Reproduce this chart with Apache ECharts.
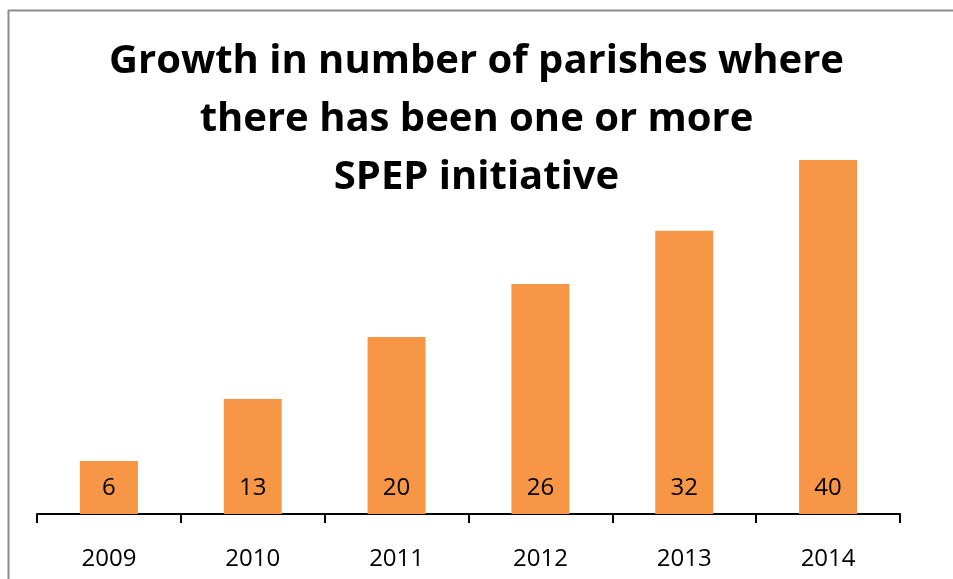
<!DOCTYPE html>
<html><head><meta charset="utf-8">
<script src="https://cdn.jsdelivr.net/npm/echarts@6/dist/echarts.min.js"></script>
<style>html,body{margin:0;padding:0;background:#fff}#c{width:953px;height:579px}</style>
</head><body><div id="c"></div>
<script>
const categories = ['2009','2010','2011','2012','2013','2014'];
const parishes = [6, 13, 20, 26, 32, 40];
const titleLines = ['Growth in number of parishes where', 'there has been one or more', 'SPEP initiative'];

const chart = echarts.init(document.getElementById('c'), null, {renderer:'canvas'});
chart.setOption({
  animation: false,
  backgroundColor: '#fff',
  title: {
    text: titleLines.join('\n'),
    left: 'center',
    top: 28,
    textStyle: {fontFamily: 'Open Sans', fontWeight: 'bold', fontSize: 40, lineHeight: 58, color: '#000'}
  },
  graphic: [
    {type:'line', shape:{x1:8, y1:10.5, x2:953, y2:10.5}, style:{stroke:'#8c8c8c', lineWidth:2}},
    {type:'line', shape:{x1:8.5, y1:10, x2:8.5, y2:579}, style:{stroke:'#8c8c8c', lineWidth:2}}
  ],
  grid: {left: 37, right: 53, top: 160, bottom: 65, containLabel: false},
  xAxis: {
    type: 'category', data: categories,
    axisLine: {lineStyle: {color: '#000', width: 2}},
    axisTick: {show: true, length: 9, lineStyle: {color: '#000', width: 2}},
    axisLabel: {color: '#000', fontFamily: 'Open Sans', fontSize: 24, margin: 33}
  },
  yAxis: {type: 'value', min: 0, max: 40, show: false, splitLine: {show: false}},
  series: [{
    type: 'bar', data: parishes, barWidth: 58,
    itemStyle: {color: '#F79646'},
    label: {show: true, position: 'insideBottom', distance: 14, color: '#000', fontFamily: 'Open Sans', fontSize: 24}
  }]
});
</script></body></html>
